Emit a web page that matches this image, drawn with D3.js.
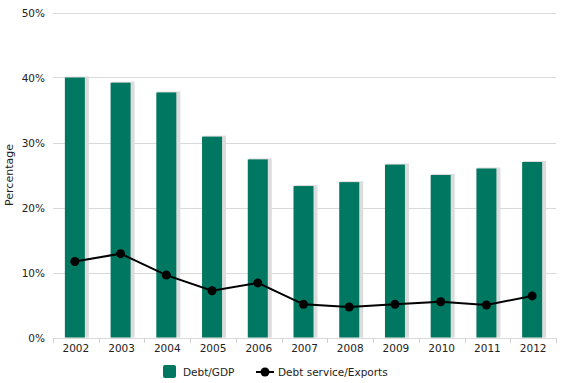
<!DOCTYPE html>
<meta charset="utf-8">
<style>
body { margin: 0; background: #fff; }
text { font-family: Verdana, "DejaVu Sans", sans-serif; fill: #222; }
.grid line { stroke: #d9d9d9; stroke-width: 1; }
</style>
<svg width="563" height="383"></svg>
<script src="https://d3js.org/d3.v7.min.js"></script>
<script>

var years = ["2002","2003","2004","2005","2006","2007","2008","2009","2010","2011","2012"];
var debtGdp = [40.0, 39.2, 37.7, 30.9, 27.4, 23.3, 23.9, 26.6, 25.0, 26.0, 27.0];
var debtService = [11.7, 12.9, 9.6, 7.2, 8.4, 5.1, 4.7, 5.1, 5.5, 5.0, 6.4];
var yTicks = [0, 10, 20, 30, 40, 50];

var svg = d3.select("svg");

var x = d3.scaleBand().domain(years).range([53, 556]).paddingInner(0).paddingOuter(0);
var y = d3.scaleLinear().domain([0, 50]).range([337.5, 12.5]);

// gridlines
svg.append("g")
    .attr("class", "grid")
  .selectAll("line")
  .data(yTicks)
  .enter().append("line")
    .attr("x1", 53)
    .attr("x2", 556)
    .attr("y1", function(d) { return Math.round(y(d)) + 0.5; })
    .attr("y2", function(d) { return Math.round(y(d)) + 0.5; });

// y labels
svg.append("g")
  .selectAll("text")
  .data(yTicks)
  .enter().append("text")
    .attr("x", 45)
    .attr("y", function(d) { return y(d) + 4; })
    .attr("text-anchor", "end")
    .style("font-size", "10.5px")
    .text(function(d) { return d + "%"; });

svg.append("text")
    .attr("transform", "translate(13,175) rotate(-90)")
    .attr("text-anchor", "middle")
    .style("font-size", "11px")
    .text("Percentage");

// x ticks at band edges
var edges = years.map(function(d) { return x(d); }).concat([x.range()[1]]);
svg.append("g")
  .selectAll("line")
  .data(edges)
  .enter().append("line")
    .attr("x1", function(d) { return Math.round(d) + 0.5; })
    .attr("x2", function(d) { return Math.round(d) + 0.5; })
    .attr("y1", 338)
    .attr("y2", 343)
    .attr("stroke", "#d0d0d0");

svg.append("g")
  .selectAll("text")
  .data(years)
  .enter().append("text")
    .attr("x", function(d) { return x(d) + x.bandwidth() / 2; })
    .attr("y", 352)
    .attr("text-anchor", "middle")
    .style("font-size", "10.5px")
    .text(function(d) { return d; });

// bar shadows
var bw = 20;
svg.append("g")
  .selectAll("rect")
  .data(debtGdp)
  .enter().append("rect")
    .attr("x", function(d, i) { return x(years[i]) + x.bandwidth() / 2 - bw / 2; })
    .attr("y", function(d) { return y(d) - 1; })
    .attr("width", bw + 3)
    .attr("height", function(d) { return y(0) - y(d) + 1; })
    .attr("fill", "#dcdcdc");

svg.append("g")
  .selectAll("rect")
  .data(debtGdp)
  .enter().append("rect")
    .attr("x", function(d, i) { return x(years[i]) + x.bandwidth() / 2 - bw / 2 - 1; })
    .attr("y", function(d) { return y(d); })
    .attr("width", bw)
    .attr("height", function(d) { return y(0) - y(d); })
    .attr("fill", "#007861");

// line
var line = d3.line()
    .x(function(d, i) { return x(years[i]) + x.bandwidth() / 2 - 1; })
    .y(function(d) { return y(d); });

svg.append("path")
    .datum(debtService)
    .attr("d", line)
    .attr("fill", "none")
    .attr("stroke", "#000")
    .attr("stroke-width", 2);

svg.append("g")
  .selectAll("circle")
  .data(debtService)
  .enter().append("circle")
    .attr("cx", function(d, i) { return x(years[i]) + x.bandwidth() / 2 - 1; })
    .attr("cy", function(d) { return y(d); })
    .attr("r", 4.5)
    .attr("fill", "#000");

// legend
var lg = svg.append("g");
lg.append("rect")
    .attr("x", 163).attr("y", 365).attr("width", 13).attr("height", 13)
    .attr("rx", 2).attr("fill", "#007861");
lg.append("text")
    .attr("x", 183).attr("y", 376)
    .style("font-size", "10.5px")
    .text("Debt/GDP");
lg.append("line")
    .attr("x1", 256).attr("x2", 274).attr("y1", 372).attr("y2", 372)
    .attr("stroke", "#000").attr("stroke-width", 2);
lg.append("circle")
    .attr("cx", 265).attr("cy", 372).attr("r", 4.5).attr("fill", "#000");
lg.append("text")
    .attr("x", 278).attr("y", 376)
    .style("font-size", "10.5px")
    .text("Debt service/Exports");

</script>
